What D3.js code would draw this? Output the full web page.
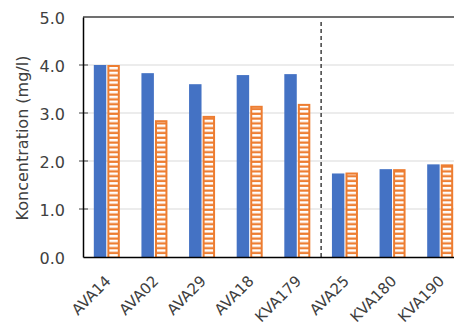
<!DOCTYPE html>
<html lang="en">
<head>
<meta charset="UTF-8">
<title>Koncentration</title>
<script src="https://cdn.jsdelivr.net/npm/d3@7"></script>
<style>
    body { margin: 0; background: #fff; }
    text { font-family: "DejaVu Sans", Arial, sans-serif; fill: #404040; }
    .tick text { font-size: 16px; }
</style>
</head>
<body>
<div id="chart"></div>
<script>
    // data
    var sites = ["AVA14", "AVA02", "AVA29", "AVA18", "KVA179", "AVA25", "KVA180", "KVA190"];
    var seriesA = [4.0, 3.83, 3.6, 3.79, 3.81, 1.74, 1.83, 1.93];   // solid blue
    var seriesB = [4.0, 2.85, 2.94, 3.15, 3.19, 1.76, 1.83, 1.93];  // striped orange
    var yTicks = [0, 1, 2, 3, 4, 5];
    var dividerAfter = "KVA179";

    var W = 454, H = 331;
    var margin = {top: 17, right: -10, bottom: 74, left: 83};

    var svg = d3.select("#chart").append("svg")
        .attr("width", W).attr("height", H);

    var defs = svg.append("defs");
    var pat = defs.append("pattern")
        .attr("id", "stripes")
        .attr("patternUnits", "userSpaceOnUse")
        .attr("width", 10).attr("height", 4.8)
        .attr("y", 257);
    pat.append("rect")
        .attr("x", 0).attr("y", 1.9)
        .attr("width", 10).attr("height", 2.5)
        .attr("fill", "#fff");

    var x = d3.scaleBand()
        .domain(sites)
        .range([margin.left, W - margin.right]);

    var xi = d3.scaleBand()
        .domain(["a", "b"])
        .range([x.bandwidth() / 2 - 13, x.bandwidth() / 2 + 13])
        .paddingInner(0.08);

    var y = d3.scaleLinear()
        .domain([0, 5])
        .range([H - margin.bottom, margin.top]);

    // gridlines
    var inner = yTicks.filter(function(d) { return d > 0 && d < 5; });
    svg.append("g")
        .selectAll("line")
        .data(inner)
        .enter().append("line")
        .attr("x1", margin.left).attr("x2", W)
        .attr("y1", function(d) { return y(d); })
        .attr("y2", function(d) { return y(d); })
        .attr("stroke", "#d9d9d9").attr("stroke-width", 1);

    // top frame line
    svg.append("line")
        .attr("x1", margin.left).attr("x2", W)
        .attr("y1", y(5)).attr("y2", y(5))
        .attr("stroke", "#404040").attr("stroke-width", 1.5);

    var groups = svg.append("g")
        .selectAll("g")
        .data(sites)
        .enter().append("g")
        .attr("transform", function(d) { return "translate(" + x(d) + ",0)"; });

    groups.append("rect")
        .attr("x", xi("a"))
        .attr("width", xi.bandwidth())
        .attr("y", function(d, i) { return y(seriesA[i]); })
        .attr("height", function(d, i) { return y(0) - y(seriesA[i]); })
        .attr("fill", "#4472c4");

    groups.append("rect")
        .attr("x", xi("b"))
        .attr("width", xi.bandwidth())
        .attr("y", function(d, i) { return y(seriesB[i]); })
        .attr("height", function(d, i) { return y(0) - y(seriesB[i]); })
        .attr("fill", "#ed7d31");

    // white stripes inside the orange bars
    groups.append("rect")
        .attr("x", xi("b") + 2)
        .attr("width", xi.bandwidth() - 4)
        .attr("y", function(d, i) { return y(seriesB[i]) + 2; })
        .attr("height", function(d, i) { return Math.max(0, y(0) - y(seriesB[i]) - 2); })
        .attr("fill", "url(#stripes)");

    // dashed divider
    var xd = x(dividerAfter) + x.bandwidth();
    svg.append("line")
        .attr("x1", xd).attr("x2", xd)
        .attr("y1", y(5) + 5).attr("y2", y(0))
        .attr("stroke", "#404040")
        .attr("stroke-width", 1.5)
        .attr("stroke-dasharray", "4,3");

    // small cross ticks on the y axis
    svg.append("g")
        .selectAll("line")
        .data(inner)
        .enter().append("line")
        .attr("x1", margin.left - 4).attr("x2", margin.left + 5)
        .attr("y1", function(d) { return y(d); })
        .attr("y2", function(d) { return y(d); })
        .attr("stroke", "#404040").attr("stroke-width", 1);

    // y axis
    var yAxis = svg.append("g")
        .attr("transform", "translate(" + margin.left + ",0)")
        .call(d3.axisLeft(y).tickValues(yTicks).tickFormat(d3.format(".1f")).tickSize(0).tickPadding(18));
    yAxis.select(".domain").attr("stroke", "#000").attr("stroke-width", 1.5);
    yAxis.selectAll(".tick text").attr("dy", "0.4em");

    // x axis
    var xAxis = svg.append("g")
        .attr("transform", "translate(0," + y(0) + ")")
        .call(d3.axisBottom(x).tickSize(0).tickFormat(""));
    xAxis.select(".domain").attr("stroke", "#000").attr("stroke-width", 1.5);

    svg.append("g")
        .selectAll("text")
        .data(sites)
        .enter().append("text")
        .attr("transform", function(d) {
            return "translate(" + (x(d) + x.bandwidth() / 2 + 5) + "," + (y(0) + 25) + ") rotate(-45)";
        })
        .attr("text-anchor", "end")
        .style("font-size", "15px")
        .text(function(d) { return d; });

    // y label
    svg.append("text")
        .attr("transform", "translate(28," + ((y(0) + y(5)) / 2 + 1) + ") rotate(-90)")
        .attr("text-anchor", "middle")
        .style("font-size", "16px")
        .text("Koncentration (mg/l)");
</script>
</body>
</html>
